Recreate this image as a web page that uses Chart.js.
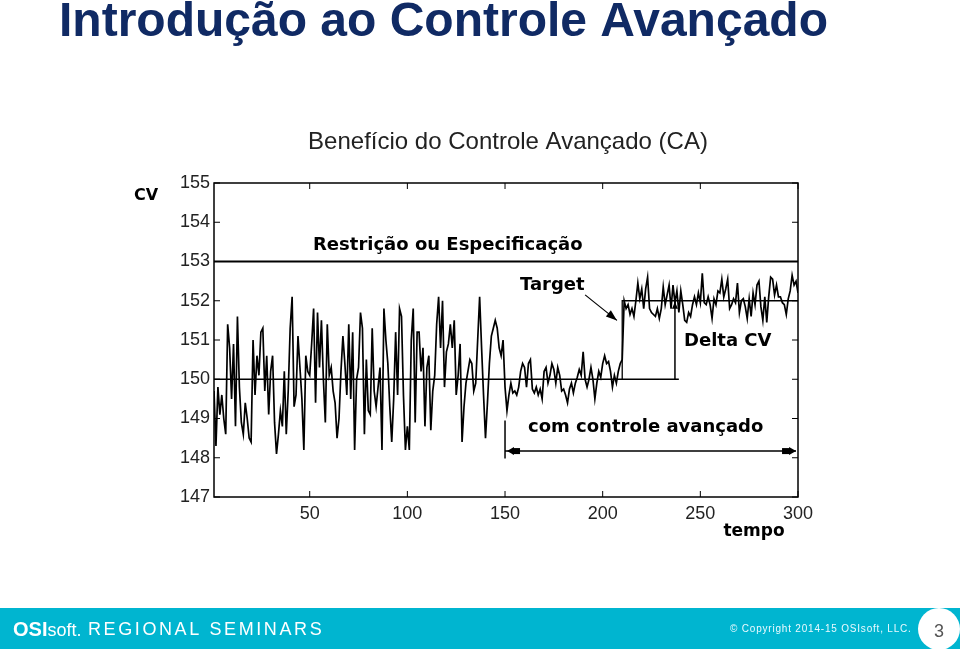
<!DOCTYPE html>
<html>
<head>
<meta charset="utf-8">
<script src="https://cdn.jsdelivr.net/npm/chart.js@4/dist/chart.umd.min.js"></script>
<style>
  html, body { margin: 0; padding: 0; background: #fff; }
  canvas { display: block; }
</style>
</head>
<body>
<canvas id="myChart" width="960" height="649"></canvas>
<script>
// CV, tempo = 1..300
let cv = [
  149.7, 148.3, 149.8, 149.1, 149.6, 149.0, 148.6, 151.4, 150.8, 149.5,
  150.9, 148.8, 151.6, 149.8, 148.9, 148.6, 149.4, 149.0, 148.5, 148.4,
  151.0, 149.6, 150.6, 150.1, 151.2, 151.3, 149.7, 150.6, 149.1, 150.2,
  150.6, 148.9, 148.1, 148.6, 149.2, 148.8, 150.2, 148.6, 149.7, 151.3,
  152.1, 149.3, 149.6, 151.1, 150.3, 149.5, 148.2, 150.6, 150.2, 150.1,
  150.9, 151.8, 149.4, 151.7, 150.3, 151.5, 150.0, 148.9, 151.4, 150.1,
  150.3, 149.7, 149.4, 148.5, 149.0, 150.2, 151.1, 150.4, 149.6, 151.4,
  149.5, 151.2, 148.2, 150.0, 150.3, 151.7, 151.3, 148.6, 150.5, 149.2,
  149.1, 151.3, 149.7, 149.3, 149.8, 150.3, 148.2, 151.8, 151.0, 150.4,
  149.3, 148.4, 149.5, 151.2, 149.6, 151.8, 151.6, 149.6, 148.2, 148.8,
  148.2, 151.0, 151.8, 148.9, 151.2, 151.2, 150.2, 150.8, 148.8, 150.3,
  150.6, 148.7, 149.7, 150.1, 151.4, 152.1, 150.8, 152.0, 149.8, 150.7,
  150.9, 151.4, 150.8, 151.5, 149.6, 150.1, 150.9, 148.4, 149.3, 149.9,
  150.2, 150.5, 150.4, 149.7, 149.9, 151.0, 152.1, 150.8, 149.6, 148.5,
  149.4, 150.4, 151.1, 151.3, 151.5, 151.3, 150.8, 150.6, 151.0, 149.8,
  149.2, 149.6, 149.9, 149.65, 149.7, 149.6, 149.8, 150.2, 150.4, 150.3,
  149.8, 150.4, 150.5, 149.75, 149.65, 149.8, 149.6, 149.75, 149.5, 150.2,
  150.3, 149.9, 150.1, 150.4, 150.25, 149.9, 150.3, 150.1, 149.7, 149.75,
  149.6, 149.4, 149.75, 149.9, 149.65, 149.9, 150.05, 150.25, 150.1, 150.7,
  150.0, 149.8, 150.0, 150.3, 150.0, 149.5, 149.9, 150.2, 150.05, 150.4,
  150.6, 150.4, 150.45, 150.2, 149.8, 150.1, 149.9, 150.2, 150.4, 150.5,
  152.0, 151.8, 151.9, 151.65, 151.8, 151.6, 152.0, 152.45, 152.05, 152.3,
  151.8, 152.3, 152.6, 151.8, 151.7, 151.65, 151.6, 151.8, 151.55, 151.8,
  152.35, 151.9, 152.15, 152.4, 151.8, 152.4, 151.95, 152.25, 151.7, 152.25,
  151.9, 151.5, 151.45, 151.7, 151.6, 151.9, 152.1, 151.9, 152.2, 151.95,
  152.7, 151.95, 151.9, 152.1, 151.9, 151.55, 152.05, 151.9, 152.25, 152.2,
  152.55, 152.1, 152.3, 152.55, 151.8, 151.9, 152.05, 151.95, 152.45, 151.7,
  152.0, 152.05, 151.85, 151.55, 152.05, 151.6, 152.2, 151.9, 152.4, 152.5,
  151.85, 151.5, 152.1, 151.45, 152.1, 152.6, 152.55, 152.15, 152.4, 152.1,
  152.1, 151.95, 151.9, 151.65, 152.05, 152.25, 152.65, 152.4, 152.5, 152.2
];
let tempo = cv.map((v, i) => i + 1);

let xTicks = [50, 100, 150, 200, 250, 300];
let yTicks = [147, 148, 149, 150, 151, 152, 153, 154, 155];

let limite = 153;          // Restrição ou Especificação
let antes = 150;           // média sem controle avançado
let target = 152;          // novo target
let tInicioCA = 150;       // início do controle avançado
let tDegrau = 210;         // troca de target
let tDelta = 237;          // seta Delta CV

let cvData = tempo.map((t, i) => ({ x: t, y: cv[i] }));

let lineStyle = { borderColor: '#000', backgroundColor: 'transparent', pointRadius: 0, tension: 0 };
let boldFont = 'bold 18px "DejaVu Sans", Verdana, sans-serif';

// annotations, axis frame, slide title and footer
let slide = {
  id: 'slide',
  beforeDraw(chart) {
    let c = chart.ctx;
    c.save();
    c.fillStyle = '#fff';
    c.fillRect(0, 0, chart.width, chart.height);
    c.restore();
  },
  afterDatasetsDraw(chart) {
    let c = chart.ctx;
    let a = chart.chartArea;
    let xs = chart.scales.x, ys = chart.scales.y;
    let X = v => xs.getPixelForValue(v), Y = v => ys.getPixelForValue(v);
    c.save();

    // frame
    c.strokeStyle = '#000';
    c.lineWidth = 1.5;
    c.strokeRect(a.left, a.top, a.right - a.left, a.bottom - a.top);

    // inward ticks
    c.lineWidth = 1;
    xTicks.forEach(v => {
      c.beginPath();
      c.moveTo(X(v), a.bottom); c.lineTo(X(v), a.bottom - 6);
      c.moveTo(X(v), a.top); c.lineTo(X(v), a.top + 6);
      c.stroke();
    });
    yTicks.forEach(v => {
      c.beginPath();
      c.moveTo(a.left, Y(v)); c.lineTo(a.left + 6, Y(v));
      c.moveTo(a.right, Y(v)); c.lineTo(a.right - 6, Y(v));
      c.stroke();
    });

    function head(x1, y1, x2, y2, len, w) {
      let ang = Math.atan2(y2 - y1, x2 - x1);
      c.beginPath();
      c.moveTo(x2, y2);
      c.lineTo(x2 - len * Math.cos(ang) + w * Math.sin(ang), y2 - len * Math.sin(ang) - w * Math.cos(ang));
      c.lineTo(x2 - len * Math.cos(ang) - w * Math.sin(ang), y2 - len * Math.sin(ang) + w * Math.cos(ang));
      c.closePath();
      c.fill();
    }
    c.fillStyle = '#000';

    // Target arrow
    let tx1 = X(191), ty1 = Y(152.15), tx2 = X(207.3), ty2 = Y(151.5);
    c.lineWidth = 1.2;
    c.beginPath(); c.moveTo(tx1, ty1); c.lineTo(tx2, ty2); c.stroke();
    head(tx1, ty1, tx2, ty2, 11, 4);

    // Delta CV arrow
    c.lineWidth = 1.5;
    c.beginPath(); c.moveTo(X(tDelta), Y(antes)); c.lineTo(X(tDelta), Y(target)); c.stroke();
    head(X(tDelta), Y(151.6), X(tDelta), Y(target) + 1, 7, 3);

    // com controle avançado
    let yArr = Y(148.17);
    c.beginPath();
    c.moveTo(X(tInicioCA), Y(148.95)); c.lineTo(X(tInicioCA), Y(147.98));
    c.moveTo(X(tInicioCA), yArr); c.lineTo(X(299), yArr);
    c.stroke();
    c.fillRect(X(tInicioCA) + 7, yArr - 3, 8, 6);
    c.fillRect(X(299) - 14, yArr - 3, 8, 6);
    head(X(tInicioCA) + 14, yArr, X(tInicioCA) + 2, yArr, 7, 4);
    head(X(290), yArr, X(299), yArr, 7, 4);

    // texts
    c.fillStyle = '#000';
    c.textBaseline = 'alphabetic';
    c.textAlign = 'left';
    c.font = boldFont;
    c.fillText('Restrição ou Especificação', 313, 250);
    c.fillText('Target', 520, 290);
    c.fillText('Delta CV', 684, 346);
    c.fillText('com controle avançado', 528, 432);
    c.restore();
  },
  afterDraw(chart) {
    let c = chart.ctx;
    c.save();
    // chart title and axis names
    c.fillStyle = '#222';
    c.textAlign = 'center';
    c.font = '24px "Liberation Sans", Arial, sans-serif';
    c.fillText('Benefício do Controle Avançado (CA)', 508, 149);
    c.fillStyle = '#000';
    c.font = 'bold 16px "DejaVu Sans", Verdana, sans-serif';
    c.fillText('CV', 146, 200);
    c.font = 'bold 17px "DejaVu Sans", Verdana, sans-serif';
    c.fillText('tempo', 754, 536);

    // slide title
    c.textAlign = 'left';
    c.fillStyle = '#102a64';
    c.font = 'bold 48px "Liberation Sans", Arial, sans-serif';
    c.fillText('Introdução ao Controle Avançado', 59, 36);

    // footer band
    c.fillStyle = '#00b5d0';
    c.fillRect(0, 608, 960, 41);
    c.fillStyle = '#fff';
    c.font = 'bold 20px "Liberation Sans", Arial, sans-serif';
    c.fillText('OSI', 13, 636);
    let w = c.measureText('OSI').width;
    c.font = '18px "Liberation Sans", Arial, sans-serif';
    c.fillText('soft.', 13 + w, 636);
    c.font = '18px "Liberation Sans", Arial, sans-serif';
    c.letterSpacing = '2.6px';
    c.fillText('REGIONAL SEMINARS', 88, 635);
    c.font = '10px "Liberation Sans", Arial, sans-serif';
    c.letterSpacing = '0.8px';
    c.fillStyle = '#eafaff';
    c.fillText('© Copyright 2014-15 OSIsoft, LLC.', 730, 632);
    c.letterSpacing = '0px';
    c.fillStyle = '#fff';
    c.beginPath();
    c.arc(939, 629, 21, 0, Math.PI * 2);
    c.fill();
    c.fillStyle = '#555';
    c.textAlign = 'center';
    c.font = '18px "Liberation Sans", Arial, sans-serif';
    c.fillText('3', 939, 637);
    c.restore();
  }
};

let ctx = document.getElementById('myChart').getContext('2d');
let chart = new Chart(ctx, {
    type: 'line',
    data: {
        datasets: [{
            label: 'CV',
            data: cvData,
            ...lineStyle,
            borderWidth: 1.7
        }, {
            label: 'Restrição',
            data: [{ x: 1, y: limite }, { x: 300, y: limite }],
            ...lineStyle,
            borderWidth: 2
        }, {
            label: 'Média',
            data: [{ x: 1, y: antes }, { x: tDelta + 2, y: antes }],
            ...lineStyle,
            borderWidth: 1.3
        }, {
            label: 'Target',
            data: [{ x: tDegrau, y: antes }, { x: tDegrau, y: target }, { x: 300, y: target }],
            ...lineStyle,
            borderWidth: 1.3
        }]
    },
    options: {
        responsive: false,
        animation: false,
        devicePixelRatio: 1,
        layout: { padding: { left: 0, top: 183, right: 162, bottom: 0 } },
        plugins: { legend: { display: false }, tooltip: { enabled: false }, title: { display: false } },
        scales: {
            x: {
                type: 'linear',
                min: 1,
                max: 300,
                afterFit: s => { s.height = 152; },
                afterBuildTicks: s => { s.ticks = xTicks.map(v => ({ value: v })); },
                grid: { display: false, drawTicks: false },
                border: { display: false },
                ticks: { color: '#222', padding: 6, maxRotation: 0, font: { family: '"Liberation Sans", Arial, sans-serif', size: 18 } }
            },
            y: {
                min: 147,
                max: 155,
                afterFit: s => { s.width = 214; },
                afterBuildTicks: s => { s.ticks = yTicks.map(v => ({ value: v })); },
                grid: { display: false, drawTicks: false },
                border: { display: false },
                ticks: { color: '#222', padding: 4, font: { family: '"Liberation Sans", Arial, sans-serif', size: 18 } }
            }
        }
    },
    plugins: [slide]
});
</script>
</body>
</html>
